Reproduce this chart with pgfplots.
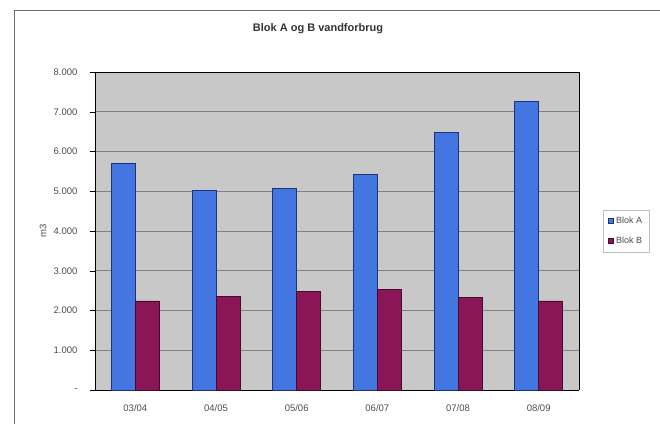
\documentclass[border=0pt]{standalone}
\usepackage{fontspec}
\setmainfont{Liberation Sans}
\usepackage{pgfplots}
\pgfplotsset{compat=1.18}

\definecolor{blokA}{RGB}{68,118,226}
\definecolor{blokAedge}{RGB}{30,50,120}
\definecolor{blokB}{RGB}{138,22,88}
\definecolor{blokBedge}{RGB}{70,10,45}
\definecolor{plotbg}{RGB}{200,200,200}
\definecolor{gridgray}{RGB}{128,128,128}
\definecolor{framegray}{RGB}{110,110,110}

\begin{document}
\begin{tikzpicture}
  % page extent and outer chart frame
  \path[use as bounding box] (0pt,0pt) rectangle (660pt,423pt);
  \draw[framegray, line width=1pt] (14pt,-2pt) -- (14pt,412pt) -- (662pt,412pt);

  \begin{axis}[
    at={(95pt,33pt)}, anchor=south west,
    scale only axis,
    width=484pt, height=318pt,
    ybar=0pt, bar width=24pt,
    xmin=-0.5, xmax=5.5,
    ymin=0, ymax=8000,
    xtick={0,1,2,3,4,5},
    xticklabels={03/04,04/05,05/06,06/07,07/08,08/09},
    ytick={0,1000,2000,3000,4000,5000,6000,7000,8000},
    yticklabels={-,1.000,2.000,3.000,4.000,5.000,6.000,7.000,8.000},
    /pgf/number format/assume math mode=true,
    xtick style={draw=none},
    extra x ticks={-0.5,0.5,1.5,2.5,3.5,4.5,5.5},
    extra x tick labels={},
    extra x tick style={major tick length=4pt, tick style={draw=black}, grid=none},
    ytick style={draw=black},
    tick align=outside,
    major tick length=5pt,
    xtick pos=bottom, ytick pos=left,
    ymajorgrids,
    grid style={gridgray, line width=0.8pt},
    axis background/.style={fill=plotbg},
    axis line style={draw=gridgray},
    separate axis lines,
    x axis line style={draw=black},
    y axis line style={draw=black},
    tick label style={font=\fontsize{9.5}{11}\selectfont, text=black!70},
    xticklabel style={yshift=-6pt},
    yticklabel style={xshift=-9pt},
    ylabel={m3},
    ylabel style={at={(axis description cs:0,0.5)}, anchor=center, yshift=52pt,
      font=\fontsize{9.5}{11}\selectfont, text=black!70},
    title={Blok A og B vandforbrug},
    title style={at={(axis description cs:0.5,1)}, anchor=center,
      xshift=-19pt, yshift=37pt,
      font=\bfseries\fontsize{11}{13}\selectfont, text=black!80},
    legend style={at={(1.05,0.5)}, anchor=west, draw=black!25, fill=white,
      font=\fontsize{9}{10}\selectfont, text=black!70,
      row sep=8pt, inner xsep=5pt, inner ysep=5pt},
    legend cell align=left,
    legend image code/.code={\fill[#1] (0pt,-2.5pt) rectangle (5pt,2.5pt);},
  ]
    \addplot[fill=blokA, draw=blokAedge, line width=0.6pt] coordinates {
      (0,5710) (1,5030) (2,5080) (3,5430) (4,6490) (5,7270)};
    \addplot[fill=blokB, draw=blokBedge, line width=0.6pt] coordinates {
      (0,2240) (1,2360) (2,2490) (3,2530) (4,2330) (5,2240)};
    \legend{Blok A, Blok B}
  \end{axis}
\end{tikzpicture}
\end{document}
